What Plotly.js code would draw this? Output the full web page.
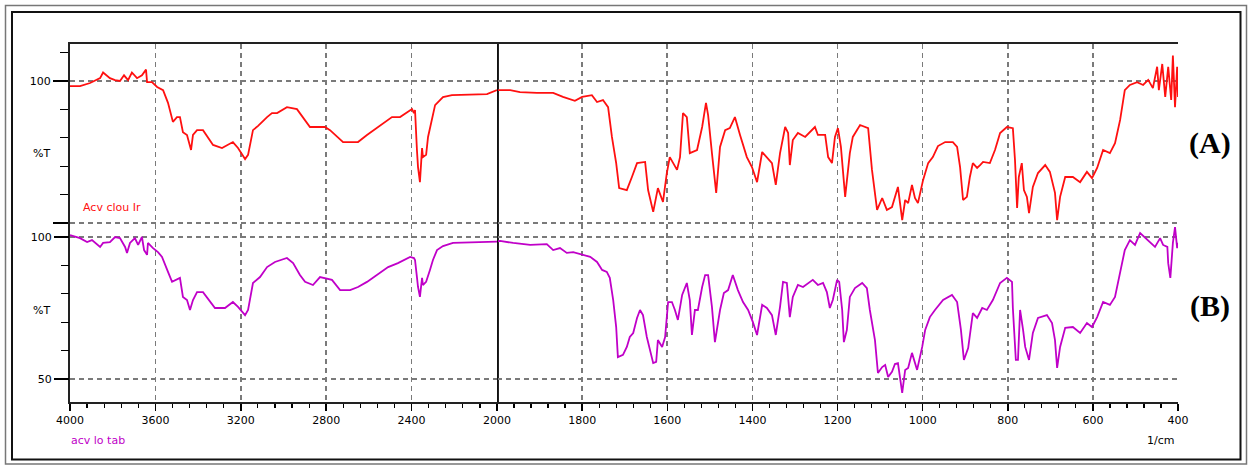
<!DOCTYPE html>
<html><head><meta charset="utf-8">
<script src="https://cdn.plot.ly/plotly-3.0.1.min.js"></script>
<style>html,body{margin:0;padding:0;background:#fff}</style>
</head><body>
<div id="chart" style="width:1250px;height:466px"></div>
<script>
// Spectrum (A): wavenumber (1/cm) and %T
const wnA = [
 4000,3953,3906,3859,3845,3813,3789,3766,3747,3728,
 3710,3686,3663,3644,3639,3616,3592,3564,3541,3518,
 3499,3485,3471,3452,3433,3424,3405,3377,3330,3288,
 3237,3213,3180,3166,3143,3119,3077,3054,3030,2984,
 2937,2909,2876,2806,2782,2721,2651,2609,2548,2492,
 2454,2398,2389,2384,2375,2370,2361,2351,2347,2332,
 2323,2304,2290,2253,2211,2047,2000,
 1969,1946,1906,1868,1845,1817,1800,1777,1765,1751,
 1739,1730,1720,1713,1695,1683,1671,1652,1645,1633,
 1622,1610,1601,1594,1577,1570,1563,1554,1547,1530,
 1518,1509,1504,1495,1485,1476,1464,1453,1441,1429,
 1413,1401,1389,1377,1366,1354,1345,1335,1323,1316,
 1312,1305,1293,1276,1253,1246,1229,1222,1213,1206,
 1199,1192,1182,1171,1164,1147,1128,1119,1107,1095,
 1084,1072,1058,1048,1041,1034,1025,1018,1011,999,
 987,976,964,947,929,919,912,905,896,889,
 882,872,865,858,842,830,818,802,788,783,
 778,774,767,762,755,750,741,729,712,701,
 689,684,677,665,647,630,614,602,590,576,
 560,548,536,525,513,496,482,470,459,449,
 445,437,430,423,416,412,407,402,400
];
const tA = [
 98.2,98.2,99.3,101,103,101,100.3,100,102,100.3,
 103,101,102,104,99.6,99.6,97.9,96.8,92.3,85.6,
 87.3,87.3,82,81,75.7,81,82.7,82.7,77.5,76.4,
 78.5,76.4,72.5,74,82.7,84.2,87.3,88.7,88.7,90.8,
 90.1,87.3,83.8,83.8,82.7,78.5,78.5,81,84.2,87.3,
 87.3,90.1,88.7,89.8,75.7,69.7,64.4,76.4,73.2,74,
 80.3,86.3,91.5,94.3,95,95.4,96.8,
 96.8,96.1,95.8,95.8,94.4,93,94.4,95,92.6,93.3,
 90.8,80.3,71.1,62.3,61.6,66.2,71.1,71.5,61.6,53.9,
 62.3,57.4,67.6,73.2,68.7,73.2,88.7,87.3,74.6,75.7,
 83.8,92.3,88,74.6,60.6,76.8,82.7,83.4,87.3,81,
 73.2,69.7,64.4,75,73.2,71.1,63.4,74.6,83.8,81.7,
 70.4,79.2,81.7,80.3,83.8,81,81,73.2,71.1,80.3,
 83.4,76.8,59.2,74.6,80.3,84.5,83.4,68.7,54.6,58.8,
 54.6,55.6,62.7,51,58.1,57,63.4,58.8,57,65.1,
 71.1,73.2,77.1,78.5,78.5,76.8,69.7,58.1,59.2,66.2,
 71.1,69.4,70.4,71.5,71.1,75.7,81.7,83.8,83.4,72.2,
 55.3,66.2,71.1,61.6,59.2,53.5,62.7,67.6,70.4,68,
 60.6,51,59.2,66.2,66.2,64.4,68,65.8,69.4,75.7,
 74.6,78.1,86.3,96.8,98.6,99.6,98.6,100.4,97.5,105,
 96.8,106,94.4,105,93.3,109,90.8,105,94.4
];
// Spectrum (B)
const wnB = [
 4000,3953,3920,3897,3859,3845,3813,3789,3766,3742,
 3733,3719,3696,3681,3663,3653,3639,3635,3611,3588,
 3569,3555,3541,3522,3485,3471,3452,3438,3424,3405,
 3377,3321,3274,3237,3213,3180,3166,3143,3110,3077,
 3040,2984,2955,2923,2899,2862,2843,2829,2773,2735,
 2688,2651,2609,2548,2510,2464,2407,2389,2384,2375,
 2370,2361,2351,2347,2332,2314,2300,2281,2253,2206,
 2019,2000,
 1993,1962,1922,1883,1868,1852,1836,1821,1800,1781,
 1765,1753,1742,1735,1727,1720,1716,1704,1695,1688,
 1680,1671,1664,1657,1648,1641,1633,1626,1622,1612,
 1605,1598,1589,1582,1575,1565,1554,1547,1542,1535,
 1528,1518,1511,1504,1495,1488,1476,1467,1457,1446,
 1434,1422,1410,1399,1389,1377,1366,1354,1345,1335,
 1328,1319,1316,1312,1305,1293,1281,1258,1246,1234,
 1225,1218,1211,1201,1196,1189,1185,1178,1171,1159,
 1142,1131,1124,1112,1105,1095,1088,1081,1072,1065,
 1058,1048,1041,1034,1025,1018,1013,1001,994,983,
 971,952,931,919,910,903,893,882,872,860,
 849,835,818,802,790,788,781,776,771,764,
 759,750,741,729,708,696,689,684,677,665,
 647,630,614,602,590,576,560,548,536,525,
 513,501,489,477,466,454,442,435,425,423,
 418,414,412,407,402,400
];
const tB = [
 100.7,99.6,98.2,98.9,96.5,97.9,98.2,100,99.6,96.5,
 94.4,97.9,99.6,97.2,100,95.4,93.7,97.9,96.1,94.7,
 93,90.1,87.7,84.2,85.6,78.9,77.8,74.3,77.8,80.6,
 80.6,75,75,77.1,75.4,72.5,74.3,83.8,85.9,89.4,
 91.2,92.6,90.8,86.6,84.2,83.1,84.9,85.9,84.9,81.3,
 81.3,82.4,84.2,87.3,89.4,90.8,93,92.6,91.9,85.9,
 82.4,78.9,85.6,83.1,84.2,88.4,91.9,95.4,96.8,97.9,
 98.2,98.4,
 98.6,97.9,97.2,97.5,95.4,96.1,94.4,94.7,93.7,93,
 91.2,88.4,87.7,85.6,77.8,68.3,57.7,58.5,61.3,64.8,
 66.2,71.5,74.3,72.5,64.8,60.9,55.6,56,63.7,61.3,
 64.8,77.1,77.1,74.3,70.8,79.6,83.8,77.8,65.5,74.3,
 74.3,82.4,86.6,86.6,75.4,63,74.3,80.3,81.3,86.6,
 81.3,77.1,74.3,70.1,65.5,76.1,75,72.5,65.5,75.4,
 84.2,83.8,78.9,71.8,78.9,83.1,82.4,84.9,83.1,83.8,
 80.6,75,77.8,84.9,84.2,74.3,63,67.3,78.9,82,
 83.8,82,74.3,63.7,52.1,54.2,54.9,50.7,52.5,55.3,
 55.6,45.1,53.2,53.9,59.2,55.6,53.2,61.3,67.3,71.8,
 74.3,77.8,79.6,77.1,67.3,56.7,60.9,73.2,71.5,75,
 74.3,77.8,83.8,85.6,84.2,75,56.7,56.7,74.3,67.3,
 61.3,56.7,66.2,71.5,72.5,69.7,63.7,53.9,61.3,68,
 68.3,66.2,69.7,68.3,71.8,77.1,76.1,78.9,87.3,95.4,
 98.9,97.2,101.4,99.6,98.2,96.5,99.6,97.2,96.5,90.8,
 85.6,93,97.9,103.5,96.1,98
];

const xTicksHi = [4000,3600,3200,2800,2400];
const xTicksLo = [2000,1800,1600,1400,1200,1000,800,600,400];
const yTicksA = [50,100];
const yTextA = ['','100'];
const yMinorA = [60,70,80,90,110];
const yTicksB = [50,100];
const yTextB = ['50','100'];
const yMinorB = [60,70,80,90];
const nameA = 'Acv clou Ir';
const nameB = 'acv lo tab';

function part(wn, t, hi){
  const x=[], y=[];
  for(let i=0;i<wn.length;i++){
    if(hi ? wn[i]>=2000 : wn[i]<=2000){ x.push(wn[i]); y.push(t[i]); }
  }
  return {x, y};
}
const RED='#ff1010', PUR='#c000c8';
const aHi=part(wnA,tA,true), aLo=part(wnA,tA,false);
const bHi=part(wnB,tB,true), bLo=part(wnB,tB,false);
const ln = c => ({color:c, width:1.8, shape:'linear'});
const traces = [
  {x:aHi.x,y:aHi.y,xaxis:'x',yaxis:'y',mode:'lines',line:ln(RED),hoverinfo:'skip'},
  {x:aLo.x,y:aLo.y,xaxis:'x2',yaxis:'y',mode:'lines',line:ln(RED),hoverinfo:'skip'},
  {x:bHi.x,y:bHi.y,xaxis:'x',yaxis:'y2',mode:'lines',line:ln(PUR),hoverinfo:'skip'},
  {x:bLo.x,y:bLo.y,xaxis:'x2',yaxis:'y2',mode:'lines',line:ln(PUR),hoverinfo:'skip'}
];

const W=1108, H=358, L=70, T=44;
const px = v => (v-L)/W;
const py = v => (T+H-v)/H;
const tf = {family:'DejaVu Sans, Liberation Sans, sans-serif', size:11, color:'#000'};
const grid = {showgrid:true, gridcolor:'#7a7a7a', gridwidth:1.6, griddash:'5px,4px'};
const split = 427/1108;

const xCommon = Object.assign({
  anchor:'y', tickmode:'array', ticks:'outside', ticklen:7, tickwidth:1.5, tickcolor:'#000',
  showline:true, linecolor:'#222', linewidth:2, mirror:true, zeroline:false,
  tickfont:tf, fixedrange:true
}, grid);

const layout = {
  width:1250, height:466,
  margin:{l:L, r:1250-L-W, t:T, b:466-T-H},
  paper_bgcolor:'#fff', plot_bgcolor:'#fff',
  showlegend:false,
  xaxis: Object.assign({}, xCommon, {domain:[0,split], range:[4000,2000], tickvals:xTicksHi,
    minor:{ticks:'outside', ticklen:4, tickwidth:1.2, tickcolor:'#000', tickmode:'linear', tick0:4000, dtick:80, showgrid:false}}),
  xaxis2: Object.assign({}, xCommon, {domain:[split,1], range:[2000,400], tickvals:xTicksLo,
    minor:{ticks:'outside', ticklen:4, tickwidth:1.2, tickcolor:'#000', tickmode:'linear', tick0:2000, dtick:40, showgrid:false}}),
  yaxis: Object.assign({
    domain:[0,1], anchor:'x', range:[-13.03,113.03], tickmode:'array', tickvals:yTicksA, ticktext:yTextA,
    ticks:'outside', ticklen:15, tickwidth:1.5, tickcolor:'#000', tickfont:tf,
    showline:true, linecolor:'#222', linewidth:2, mirror:true, zeroline:false, fixedrange:true,
    minor:{ticks:'outside', ticklen:8, tickwidth:1.2, tickcolor:'#000', tickmode:'array', tickvals:yMinorA, showgrid:false}
  }, grid),
  yaxis2: Object.assign({
    overlaying:'y', side:'left', anchor:'x', range:[41.9,167.96], tickmode:'array', tickvals:yTicksB, ticktext:yTextB,
    ticks:'outside', ticklen:15, tickwidth:1.5, tickcolor:'#000', tickfont:tf,
    showline:false, zeroline:false, fixedrange:true,
    minor:{ticks:'outside', ticklen:8, tickwidth:1.2, tickcolor:'#000', tickmode:'array', tickvals:yMinorB, showgrid:false}
  }, grid),
  shapes:[
    {type:'line', xref:'x2', yref:'paper', x0:2000, x1:2000, y0:0, y1:1, line:{color:'#111', width:2}},
    {type:'rect', xref:'paper', yref:'paper', x0:px(5.5), x1:px(1246.5), y0:py(464), y1:py(5.5), line:{color:'#777', width:1.5}},
    {type:'rect', xref:'paper', yref:'paper', x0:px(12), x1:px(1240.5), y0:py(459.5), y1:py(12), line:{color:'#111', width:2}}
  ],
  annotations:[
    {xref:'paper', yref:'paper', x:px(41), y:py(153), text:'%T', showarrow:false, font:tf, xanchor:'center', yanchor:'middle'},
    {xref:'paper', yref:'paper', x:px(41), y:py(310), text:'%T', showarrow:false, font:tf, xanchor:'center', yanchor:'middle'},
    {xref:'paper', yref:'paper', x:px(81), y:py(207), text:nameA, showarrow:false, font:Object.assign({},tf,{color:RED}), xanchor:'left', yanchor:'middle'},
    {xref:'paper', yref:'paper', x:px(69), y:py(440), text:nameB, showarrow:false, font:Object.assign({},tf,{color:PUR}), xanchor:'left', yanchor:'middle'},
    {xref:'paper', yref:'paper', x:px(1160), y:py(440), text:'1/cm', showarrow:false, font:tf, xanchor:'center', yanchor:'middle'},
    {xref:'paper', yref:'paper', x:px(1210), y:py(143), text:'<b>(A)</b>', showarrow:false, font:{family:'Liberation Serif, DejaVu Serif, serif', size:30, color:'#000'}, xanchor:'center', yanchor:'middle'},
    {xref:'paper', yref:'paper', x:px(1210), y:py(306), text:'<b>(B)</b>', showarrow:false, font:{family:'Liberation Serif, DejaVu Serif, serif', size:30, color:'#000'}, xanchor:'center', yanchor:'middle'}
  ]
};
Plotly.newPlot('chart', traces, layout, {displayModeBar:false, staticPlot:true});
</script>
</body></html>
